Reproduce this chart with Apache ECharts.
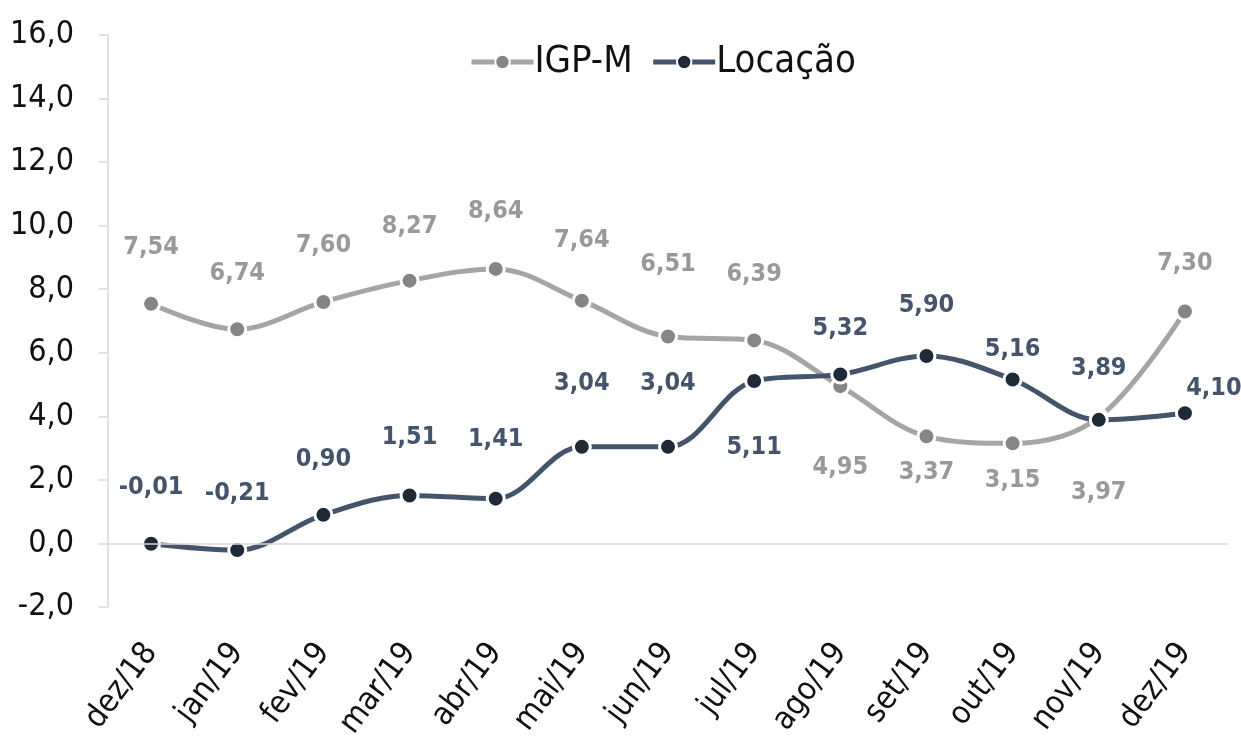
<!DOCTYPE html>
<html>
<head>
<meta charset="utf-8">
<script src="https://cdn.jsdelivr.net/npm/echarts@6/dist/echarts.min.js"></script>
<style>
html,body{margin:0;padding:0;background:#fff;}
#chart{width:1241px;height:752px;}
</style>
</head>
<body>
<div id="chart"></div>
<script>
const categories = ['dez/18','jan/19','fev/19','mar/19','abr/19','mai/19','jun/19','jul/19','ago/19','set/19','out/19','nov/19','dez/19'];
const igpm = [7.54, 6.74, 7.60, 8.27, 8.64, 7.64, 6.51, 6.39, 4.95, 3.37, 3.15, 3.97, 7.30];
const locacao = [-0.01, -0.21, 0.90, 1.51, 1.41, 3.04, 3.04, 5.11, 5.32, 5.90, 5.16, 3.89, 4.10];
const yTicks = [-2, 0, 2, 4, 6, 8, 10, 12, 14, 16];

// label placement (pixel offsets from each point), layout only
const igpLabelOffset = [[0,-56],[0,-56],[0,-56],[0,-54],[0,-57],[0,-60],[0,-72],[0,-66],[0,81],[0,36],[0,37],[0,75],[0,-48]];
const locLabelOffset = [[0,-56],[0,-57],[0,-55],[0,-58],[0,-59],[0,-63],[0,-63],[0,66],[0,-46],[0,-50],[0,-30],[0,-51],[29,-25]];

const FONT = "'Liberation Sans Narrow', 'DejaVu Sans Condensed', 'Roboto Condensed', sans-serif";
const fmt = v => v.toFixed(2).replace('.', ',');

function buildData(vals, offs) {
  return vals.map((v, i) => ({
    value: v,
    label: { offset: offs[i] }
  }));
}

const chart = echarts.init(document.getElementById('chart'), null, {renderer: 'canvas'});
chart.setOption({
  animation: false,
  backgroundColor: '#ffffff',
  textStyle: { fontFamily: FONT },
  legend: {
    top: 38,
    left: 464,
    itemWidth: 62,
    itemHeight: 18,
    itemGap: 18,
    lineStyle: { width: 5 },
    textStyle: { fontFamily: FONT, fontSize: 38, color: '#111', padding: [0,0,0,-4] },
    data: ['IGP-M', 'Locação']
  },
  grid: { left: 108, right: 13, top: 35, bottom: 145, containLabel: false },
  xAxis: {
    type: 'category',
    data: categories,
    boundaryGap: true,
    axisLine: { show: false },
    axisTick: { show: false },
    axisLabel: {
      rotate: 53,
      margin: 40,
      fontFamily: FONT,
      fontSize: 32,
      color: '#111'
    }
  },
  yAxis: {
    type: 'value',
    min: yTicks[0],
    max: yTicks[yTicks.length - 1],
    interval: 2,
    splitLine: { show: false },
    axisLine: { show: true, lineStyle: { color: '#d9d9d9', width: 1.5 } },
    axisTick: { show: true, length: 9, lineStyle: { color: '#d9d9d9', width: 1.5 } },
    axisLabel: {
      margin: 34,
      fontFamily: FONT,
      fontSize: 32,
      color: '#111',
      formatter: v => v.toFixed(1).replace('.', ',')
    }
  },
  series: [
    {
      name: 'IGP-M',
      type: 'line',
      smooth: 0.35,
      data: buildData(igpm, igpLabelOffset),
      symbol: 'circle',
      symbolSize: 17,
      lineStyle: { color: '#a5a5a5', width: 5 },
      itemStyle: { color: '#858585', borderColor: '#ffffff', borderWidth: 3 },
      label: {
        show: true,
        position: 'inside',
        fontFamily: FONT,
        fontSize: 25,
        fontWeight: 'bold',
        color: '#999999',
        formatter: p => fmt(p.value)
      },
      markLine: {
        silent: true,
        symbol: 'none',
        label: { show: false },
        lineStyle: { color: '#d9d9d9', width: 1.5, type: 'solid' },
        data: [{ yAxis: 0 }]
      },
      z: 2
    },
    {
      name: 'Locação',
      type: 'line',
      smooth: 0.35,
      data: buildData(locacao, locLabelOffset),
      symbol: 'circle',
      symbolSize: 17,
      lineStyle: { color: '#44546a', width: 5 },
      itemStyle: { color: '#1f2a38', borderColor: '#ffffff', borderWidth: 3 },
      label: {
        show: true,
        position: 'inside',
        fontFamily: FONT,
        fontSize: 25,
        fontWeight: 'bold',
        color: '#44546a',
        formatter: p => fmt(p.value)
      },
      z: 3
    }
  ]
});
</script>
</body>
</html>
